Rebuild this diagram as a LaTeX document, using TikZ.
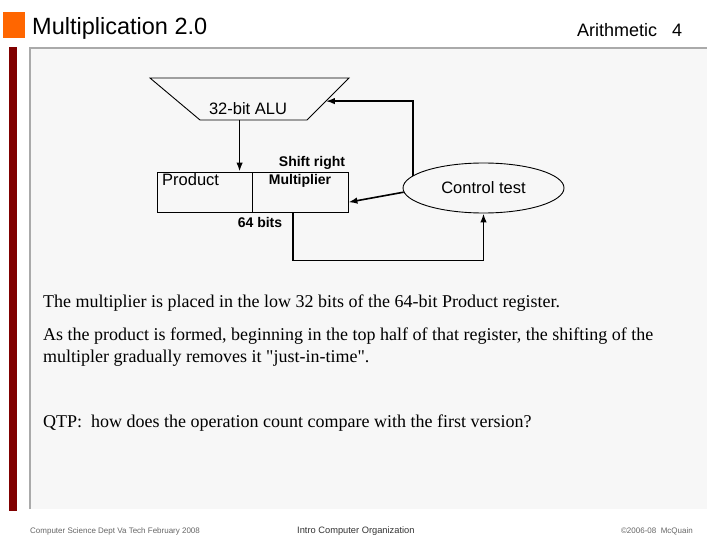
\documentclass[tikz,border=0pt]{standalone}
\usepackage{fontspec}
\setmainfont{Liberation Serif}[Ligatures=TeXOff]
\setsansfont{Liberation Sans}
\usetikzlibrary{arrows.meta,calc,shapes.geometric}

\definecolor{slidebg}{RGB}{247,247,247}
\definecolor{rulegray}{RGB}{170,170,170}
\definecolor{barred}{RGB}{128,0,0}
\definecolor{tagorange}{RGB}{255,102,0}

\begin{document}
\begin{tikzpicture}[x=1pt, y=-1pt, >={Latex[length=9pt,width=6.5pt]},
  box/.style={draw, line width=0.9pt, inner sep=0pt},
  lbl/.style={font=\sffamily\fontsize{16.5}{18}\selectfont, inner sep=0pt},
  blbl/.style={font=\sffamily\bfseries\fontsize{14}{16}\selectfont, inner sep=0pt},
  wire/.style={->, line width=1.6pt},
  body/.style={font=\fontsize{18}{22}\selectfont, anchor=base west, inner sep=0pt},
  foot/.style={font=\sffamily\fontsize{8}{9}\selectfont, anchor=base west, inner sep=0pt, black!60}]
  \useasboundingbox (0,0) rectangle (720,540);
  % slide frame
  \fill[white] (0,0) rectangle (720,540);
  \fill[tagorange] (3,12) rectangle (25,38);
  \fill[barred] (9,47) rectangle (17,511);
  \fill[slidebg] (30,48) rectangle (707,509);
  \draw[rulegray, line width=2pt] (30,509) -- (30,48) -- (707,48);
  \node[font=\sffamily\fontsize{23.5}{26}\selectfont, anchor=base west, inner sep=0pt] (title) at (32,35) {Multiplication 2.0};
  \node[font=\sffamily\fontsize{18}{20}\selectfont, anchor=base west, inner sep=0pt] (sect) at (577,36.5) {Arithmetic\hspace{15pt}4};
  % datapath
  \draw[box] (150,78) coordinate (alutl) -- (349,78) coordinate (alutr) -- (307,120) coordinate (alubr) -- (200,120) coordinate (alubl) -- cycle;
  \node[lbl, anchor=base] (alu) at (248,115) {32-bit ALU};
  \node[box, minimum width=95pt, minimum height=40pt] (prod) at (204.5,192) {};
  \node[box, minimum width=96pt, minimum height=40pt] (mult) at (300,192) {};
  \node[lbl, anchor=base west] (prodtxt) at (162,186) {Product};
  \node[blbl, anchor=base] (multtxt) at (300,185) {Multiplier};
  \node[blbl, anchor=base] (shift) at (312,167) {Shift right};
  \node[blbl, anchor=base] (bits) at (260,227) {64 bits};
  \node[box, lbl, ellipse, minimum width=161pt, minimum height=50pt] (ctl) at (483.5,188) {Control test};
  \coordinate (aluout) at ($(alubl)!0.37!(alubr)$);
  \coordinate (aluin) at ($(alutr)!0.55!(alubr)$);
  \coordinate (multin) at ($(mult.south east)!0.25!(mult.north east)$);
  \coordinate (multout) at ($(mult.south west)!0.43!(mult.south east)$);
  \draw[wire] (aluout) -- (aluout |- prod.north);
  \draw[wire] (ctl.170) |- (aluin);
  \draw[wire] (ctl.183) -- (multin);
  \draw[wire] (multout) -- ++(0,48) -| (ctl.south);
  % text
  \node[body] (p1) at (43,307) {The multiplier is placed in the low 32 bits of the 64-bit Product register.};
  \node[body] (p2) at (43,340) {As the product is formed, beginning in the top half of that register, the shifting of the};
  \node[body] (p2b) at (43,362) {multipler gradually removes it "just-in-time".};
  \node[body] (p3) at (43,427) {QTP:\ \ how does the operation count compare with the first version?};
  % footer
  \node[foot] (dept) at (30,533) {Computer Science Dept Va Tech February 2008};
  \node[foot, font=\sffamily\fontsize{9.3}{11}\selectfont, black!80] (course) at (297,533) {Intro Computer Organization};
  \node[foot, anchor=base east] (copy) at (693,533) {\textcopyright2006-08\ \ McQuain};
\end{tikzpicture}
\end{document}
